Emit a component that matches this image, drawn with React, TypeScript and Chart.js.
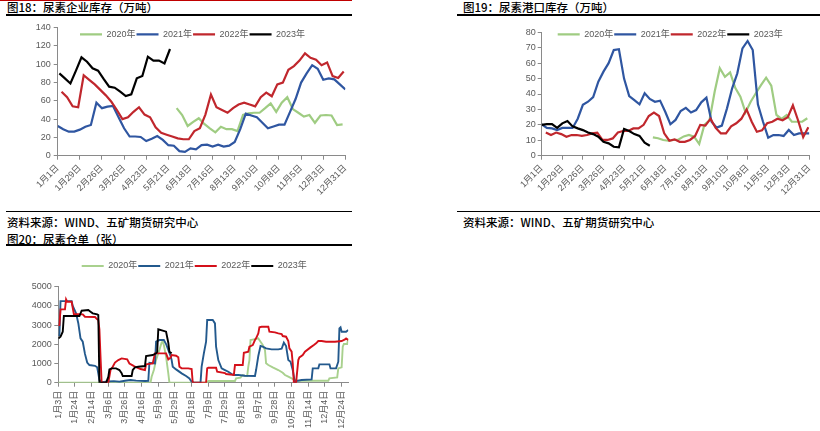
import React, { useEffect, useRef } from 'react';
import { Chart, registerables } from 'chart.js';

Chart.register(...registerables);

const FONT = '"Liberation Sans", "Noto Sans CJK SC", sans-serif';
const CJK = '"Noto Sans CJK SC", "Liberation Sans", sans-serif';
const TICK_COLOR = '#595959';
const AXIS_COLOR = '#8a8a8a';

const YEARS = ['2020年', '2021年', '2022年', '2023年'];
const WEEK_TICKS = ['1月1日', '1月29日', '2月26日', '3月26日', '4月23日', '5月21日', '6月18日', '7月16日', '8月13日', '9月10日', '10月8日', '11月5日', '12月3日', '12月31日'];
const DAY_TICKS = ['1月3日', '1月24日', '2月14日', '3月6日', '3月26日', '4月16日', '5月9日', '5月29日', '6月18日', '7月9日', '7月29日', '8月18日', '9月7日', '9月28日', '10月25日', '11月14日', '12月4日', '12月24日'];

// 图18 尿素企业库存（万吨）, weekly; start = week of first observation
const ent2020Start = 21.5;
const ent2020 = [52, 44.5, 32.5, 37, 41, 34.7, 30, 25.6, 31.7, 29, 29, 27, 44.5, 46.3, 47, 47, 52, 57.3, 48, 58, 64, 51, 47, 42.7, 44.5, 36, 44, 44.5, 44, 33.6, 34.3];
const ent2021Start = 0;
const ent2021 = [32.5, 29, 26.3, 26.3, 28.5, 31.7, 33.6, 58, 52, 53.6, 54.4, 42, 30, 21, 21, 20.5, 16, 18.5, 21.5, 17.2, 11.5, 10.9, 5, 4.2, 8, 7, 11.5, 12, 10, 12, 10, 11, 15, 29, 46, 44, 42, 36, 30, 32, 34, 34, 48, 62, 80, 90, 99, 95, 83, 84.5, 83.5, 78, 72.5];
const ent2022Start = 0.7;
const ent2022 = [70, 64, 54, 53, 88, 83, 78, 72, 66, 59, 50, 40, 42, 48, 53, 45, 42, 31, 25, 23, 21, 19, 18, 18, 27, 30, 45, 67, 53, 50, 47, 52, 56, 58, 56, 54, 64, 69, 65, 78, 80, 94, 98, 104, 112, 107, 105, 99, 102, 87, 85, 92];
const ent2023Start = 0.3;
const ent2023 = [90, 84.6, 79, 93, 107.6, 102.8, 95.6, 93, 84, 75.5, 74.4, 70, 65.3, 67.2, 84.7, 87.2, 108.3, 104, 104, 101, 116.7];

// 图19 尿素港口库存（万吨）, weekly
const port2020Start = 21.6;
const port2020 = [11.9, 11.3, 10.2, 9.7, 10.2, 10.5, 12.5, 13.5, 12.3, 7.6, 20, 23, 41.5, 56.7, 51.2, 54, 44, 38.3, 28.1, 35, 40.5, 45.8, 50.6, 45.4, 26.4, 23.8, 26.4, 22, 22, 22, 24.3];
const port2021Start = 0;
const port2021 = [20.3, 18, 17.7, 16.6, 18, 18, 18, 24, 33, 35, 38, 48, 54.5, 60, 68.5, 69, 50, 38.7, 36, 33.3, 40.5, 36.8, 35, 35.7, 28.5, 20.4, 23.2, 29, 31, 28, 29.6, 34.6, 37.6, 22, 18.2, 19.5, 30.7, 43.7, 53.4, 69.6, 74.4, 68.5, 33.3, 22, 11.7, 13.4, 13.4, 12.8, 16.7, 13.4, 14.5, 14.5, 14.5];
const port2022Start = 0.8;
const port2022 = [15, 13.4, 15, 14, 12.3, 13.4, 13.4, 12.8, 13.4, 14.5, 15, 10.2, 10.2, 11.2, 15, 16, 16, 17.7, 17.7, 20, 25.7, 27.9, 25.7, 14.5, 9.7, 10.6, 9, 9, 10.2, 12.8, 20, 19.5, 24, 18, 14.5, 14.5, 19, 21, 24, 30, 22, 15.5, 16.4, 21, 22, 24, 23, 25, 32.7, 23, 12, 18.5];
const port2023Start = 0;
const port2023 = [20, 20.5, 20.5, 18, 21, 22.5, 19, 17.7, 16.6, 15, 14, 12.3, 9, 8, 5.8, 5.4, 17.3, 16, 14, 12.8, 8.4, 6.5];

// 图20 尿素仓单（张）: [trading-day index, receipts] at each change of the series
const rc2020 = [[0, 0], [83, 0], [84, 312], [86, 660], [88, 1180], [91, 1700], [93, 2100], [94, 2135], [95, 1962], [97, 1354], [99, 486], [100, 0], [134, 0], [135, 87], [159, 87], [160, 226], [164, 260], [165, 347], [166, 400], [168, 350], [170, 347], [171, 833], [172, 1180], [173, 2222], [176, 2257], [180, 2309], [182, 2135], [184, 1962], [186, 1701], [187, 1007], [189, 920], [193, 798], [198, 660], [202, 520], [204, 400], [207, 312], [210, 226], [213, 139], [216, 104], [243, 104], [244, 226], [251, 278], [252, 746], [255, 798], [256, 1875], [257, 2014], [260, 2014], [261, 2309]];
const rc2021 = [[0, 2500], [1, 2480], [2, 4250], [12, 4250], [13, 4000], [16, 3611], [18, 3100], [20, 2309], [22, 2135], [24, 1500], [26, 1050], [28, 920], [33, 880], [35, 800], [36, 486], [37, 139], [39, 30], [45, 60], [50, 80], [55, 52], [60, 100], [65, 139], [70, 110], [78, 87], [81, 100], [82, 1042], [87, 1007], [88, 2135], [91, 2222], [95, 2222], [97, 2014], [99, 1701], [101, 1400], [102, 1180], [103, 833], [106, 694], [111, 486], [115, 347], [118, 226], [120, 52], [122, 0], [128, 0], [129, 833], [131, 1528], [133, 2135], [134, 3264], [139, 3264], [141, 3090], [142, 1876], [144, 1180], [147, 746], [150, 660], [153, 573], [156, 451], [158, 400], [162, 400], [168, 365], [177, 347], [178, 660], [180, 1390], [182, 1910], [184, 1876], [187, 1788], [192, 1736], [198, 1736], [201, 1770], [203, 2084], [205, 1910], [207, 1180], [209, 1094], [211, 660], [213, 0], [214, 87], [219, 139], [228, 174], [229, 746], [234, 746], [235, 955], [244, 955], [245, 746], [250, 746], [252, 1094], [253, 2830], [254, 2882], [255, 2656], [259, 2656], [261, 2743]];
const rc2022 = [[0, 3000], [1, 3000], [2, 3819], [6, 3819], [7, 4340], [8, 4218], [12, 4218], [14, 3576], [22, 3560], [24, 3437], [33, 3420], [35, 3300], [36, 3264], [37, 2778], [38, 1354], [39, 0], [45, 0], [47, 660], [49, 833], [51, 1050], [54, 1180], [57, 1267], [62, 1215], [64, 1000], [67, 900], [69, 833], [74, 712], [78, 660], [79, 955], [85, 1007], [87, 1528], [97, 1528], [99, 1215], [101, 1300], [102, 1441], [106, 1406], [108, 1320], [109, 833], [111, 746], [117, 746], [120, 712], [121, 0], [133, 0], [134, 746], [135, 780], [142, 780], [143, 573], [150, 500], [151, 450], [158, 400], [159, 920], [166, 920], [167, 1562], [171, 1615], [172, 1875], [175, 1962], [177, 2222], [178, 2309], [180, 2570], [181, 2882], [183, 2916], [189, 2916], [190, 2656], [195, 2621], [198, 2570], [201, 2535], [202, 2430], [205, 2396], [207, 2170], [208, 1788], [210, 1615], [211, 1007], [212, 0], [214, 0], [216, 1180], [217, 1320], [220, 1441], [222, 1615], [227, 1840], [230, 1962], [232, 2048], [234, 2170], [237, 2170], [241, 2135], [249, 2135], [255, 2170], [258, 2257], [259, 2309], [261, 2222]];
const rc2023 = [[0, 2309], [2, 2396], [4, 2656], [5, 3472], [19, 3472], [21, 3750], [27, 3785], [29, 3698], [31, 3611], [35, 3559], [36, 3524], [37, 0], [43, 0], [45, 300], [46, 694], [48, 746], [52, 746], [55, 660], [57, 500], [58, 347], [66, 347], [67, 660], [69, 798], [72, 833], [78, 868], [79, 1389], [85, 1441], [88, 1528], [89, 1600], [90, 2778], [94, 2708], [97, 2656], [99, 2083], [100, 1614], [102, 1528]];

const COLORS_A = ['#9fcc82', '#2f56a1', '#c0272d', '#000000'];
const COLORS_B = ['#a9d18e', '#23598d', '#d4101a', '#000000'];

type Pt = { x: number; y: number };
const weekly = (start: number, vals: number[]): Pt[] => vals.map((y, i) => ({ x: start + i, y }));
const steps = (pairs: number[][]): Pt[] => pairs.map(([x, y]) => ({ x, y }));

const legendPlacer = {
  id: 'legendPlacer',
  afterLayout(chart: any, _args: any, opts: any) {
    const l = chart.legend;
    if (!l || !opts || opts.x == null) return;
    const pad = l.options.labels.padding;
    const fs = l.options.labels.font.size;
    l.left = opts.x - pad;
    l.right = l.left + 320;
    l.width = 320;
    l.top = opts.y - pad - fs / 2;
    l.bottom = l.top + 20;
    l.height = 20;
  },
};

function ds(label: string, data: Pt[], color: string, width: number, order: number) {
  return {
    label,
    data,
    borderColor: color,
    backgroundColor: color,
    borderWidth: width,
    pointRadius: 0,
    pointHoverRadius: 0,
    tension: 0,
    fill: false,
    order,
  };
}

function makeConfig(p: any): any {
  const tickFont = { family: FONT, size: p.fontSize };
  return {
    type: 'line',
    data: { datasets: p.datasets },
    plugins: [legendPlacer],
    options: {
      responsive: false,
      animation: false,
      events: [],
      layout: { padding: p.padding },
      plugins: {
        legend: {
          display: true,
          position: 'top',
          align: 'start',
          maxHeight: 0.01,
          labels: {
            usePointStyle: true,
            pointStyle: 'line',
            pointStyleWidth: 22,
            padding: 1,
            color: TICK_COLOR,
            font: { family: FONT, size: 9 },
            sort: (a: any, b: any) => a.datasetIndex - b.datasetIndex,
          },
        },
        tooltip: { enabled: false },
        legendPlacer: p.legendAt,
      },
      scales: {
        x: {
          type: 'linear',
          min: 0,
          max: p.xMax,
          afterFit: (s: any) => { s.height = p.xHeight; },
          border: { display: true, color: AXIS_COLOR, width: 1 },
          grid: { display: true, drawOnChartArea: false, drawTicks: true, tickLength: 4, tickColor: AXIS_COLOR, color: AXIS_COLOR },
          ticks: {
            stepSize: p.xStep,
            autoSkip: false,
            includeBounds: false,
            maxRotation: p.rotation,
            minRotation: p.rotation,
            padding: p.xPad,
            color: TICK_COLOR,
            font: tickFont,
            callback: (v: any) => {
              const k = Number(v) / p.xStep;
              return Number.isInteger(k) && k < p.xLabels.length ? p.xLabels[k] : '';
            },
          },
        },
        y: {
          type: 'linear',
          min: 0,
          max: p.yMax,
          afterFit: (s: any) => { s.width = p.yWidth; },
          border: { display: true, color: AXIS_COLOR, width: 1 },
          grid: { display: true, drawOnChartArea: false, drawTicks: true, tickLength: p.yTick, tickColor: AXIS_COLOR, color: AXIS_COLOR },
          ticks: {
            stepSize: p.yStep,
            padding: p.yPad,
            color: TICK_COLOR,
            font: tickFont,
            callback: (v: any) => String(v),
          },
        },
      },
    },
  };
}

function ChartBox({ left, top, width, height, build }: any) {
  const ref = useRef<HTMLCanvasElement>(null);
  useEffect(() => {
    const chart = new Chart(ref.current as HTMLCanvasElement, build());
    return () => chart.destroy();
  }, []);
  return (
    <canvas
      ref={ref}
      width={width}
      height={height}
      style={{ position: 'absolute', left, top, width, height }}
    />
  );
}

const buildEnterprise = () =>
  makeConfig({
    datasets: [
      ds(YEARS[0], weekly(ent2020Start, ent2020), COLORS_A[0], 2.2, 4),
      ds(YEARS[1], weekly(ent2021Start, ent2021), COLORS_A[1], 2.2, 3),
      ds(YEARS[2], weekly(ent2022Start, ent2022), COLORS_A[2], 2.2, 2),
      ds(YEARS[3], weekly(ent2023Start, ent2023), COLORS_A[3], 2.2, 1),
    ],
    padding: { top: 9.7, left: 0, right: 9.1, bottom: 0 },
    xMax: 52,
    xStep: 4,
    xLabels: WEEK_TICKS,
    xHeight: 52.3,
    xPad: 3,
    rotation: 45,
    yMax: 140,
    yStep: 20,
    yWidth: 57.7,
    yTick: 4,
    yPad: 3,
    fontSize: 9,
    legendAt: { x: 80, y: 16.3 },
  });

const buildPort = () =>
  makeConfig({
    datasets: [
      ds(YEARS[0], weekly(port2020Start, port2020), COLORS_A[0], 2.2, 4),
      ds(YEARS[1], weekly(port2021Start, port2021), COLORS_A[1], 2.2, 3),
      ds(YEARS[2], weekly(port2022Start, port2022), COLORS_A[2], 2.2, 2),
      ds(YEARS[3], weekly(port2023Start, port2023), COLORS_A[3], 2.2, 1),
    ],
    padding: { top: 14.3, left: 0, right: 6.2, bottom: 0 },
    xMax: 52,
    xStep: 4,
    xLabels: WEEK_TICKS,
    xHeight: 52.3,
    xPad: 3,
    rotation: 45,
    yMax: 80,
    yStep: 10,
    yWidth: 101.7,
    yTick: 4,
    yPad: 2,
    fontSize: 9,
    legendAt: { x: 117.7, y: 16.3 },
  });

const buildReceipts = () =>
  makeConfig({
    datasets: [
      ds(YEARS[0], steps(rc2020), COLORS_B[0], 1.9, 4),
      ds(YEARS[1], steps(rc2021), COLORS_B[1], 1.9, 3),
      ds(YEARS[2], steps(rc2022), COLORS_B[2], 1.9, 2),
      ds(YEARS[3], steps(rc2023), COLORS_B[3], 1.9, 1),
    ],
    padding: { top: 36.7, left: 0, right: 11.7, bottom: 0 },
    xMax: 261,
    xStep: 15,
    xLabels: DAY_TICKS,
    xHeight: 48.3,
    xPad: 4,
    rotation: 90,
    yMax: 5000,
    yStep: 1000,
    yWidth: 58.3,
    yTick: 4,
    yPad: 2.5,
    fontSize: 9,
    legendAt: { x: 81.7, y: 16 },
  });

const text = (left: number, top: number): React.CSSProperties => ({
  position: 'absolute',
  left,
  top,
  fontFamily: CJK,
  fontSize: '11.5px',
  lineHeight: '13px',
  fontWeight: 500,
  color: '#000',
  whiteSpace: 'nowrap',
});

const rule = (left: number, top: number, width: number, height: number, color = '#000'): React.CSSProperties => ({
  position: 'absolute',
  left,
  top,
  width,
  height,
  background: color,
});

export default function App() {
  return (
    <div style={{ position: 'absolute', left: 0, top: 0, width: 820, height: 431, background: '#fff', overflow: 'hidden' }}>
      <div style={rule(0, 0, 352, 1, '#c00000')} />
      <div style={text(7, 1)}>图18：尿素企业库存（万吨）</div>
      <div style={rule(6, 14, 346, 2)} />
      <div style={text(463, 1)}>图19：尿素港口库存（万吨）</div>
      <div style={rule(457, 14, 363, 2)} />

      <ChartBox left={0} top={18} width={356} height={190} build={buildEnterprise} />
      <ChartBox left={440} top={18} width={380} height={190} build={buildPort} />

      <div style={rule(6, 211, 346, 1)} />
      <div style={text(7, 216)}>资料来源：WIND、五矿期货研究中心</div>
      <div style={rule(457, 211, 363, 1)} />
      <div style={text(463, 216)}>资料来源：WIND、五矿期货研究中心</div>
      <div style={text(7, 232.5)}>图20：尿素仓单（张）</div>
      <div style={rule(6, 244, 346, 2)} />

      <ChartBox left={0} top={250} width={360} height={181} build={buildReceipts} />
    </div>
  );
}
